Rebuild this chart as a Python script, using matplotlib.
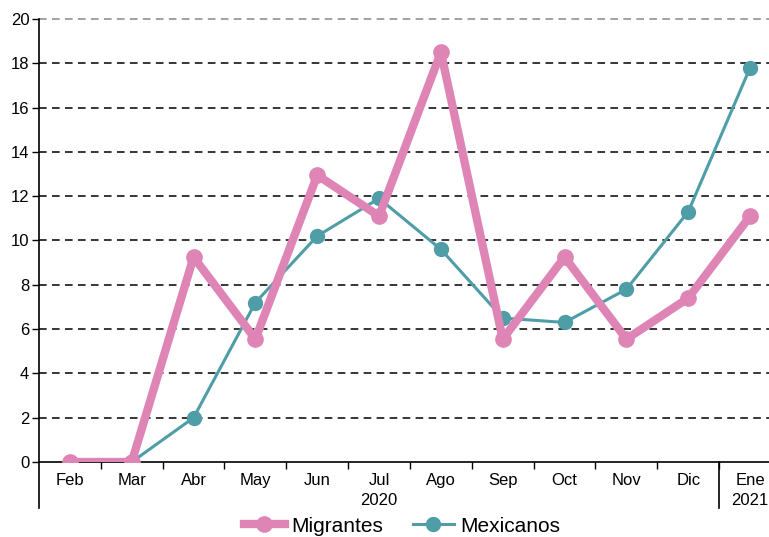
import numpy as np
import matplotlib.pyplot as plt
from matplotlib.lines import Line2D

plt.rcParams['font.family'] = ['Liberation Sans', 'DejaVu Sans']

#months
Meses = ['Feb', 'Mar', 'Abr', 'May', 'Jun', 'Jul', 'Ago', 'Sep', 'Oct', 'Nov', 'Dic', 'Ene']
Anios = {5: '2020', 11: '2021'}

#values
Migrantes = [0, 0, 9.25, 5.55, 12.95, 11.1, 18.5, 5.55, 9.25, 5.55, 7.4, 11.1]
Mexicanos = [0, 0, 2.0, 7.2, 10.2, 11.9, 9.6, 6.5, 6.3, 7.8, 11.3, 17.8]

pink = '#DE85B6'
teal = '#4E9DA7'

fig = plt.figure(figsize=(7.69, 5.37), dpi=100)
W, H = 769, 537
x0, x1 = 39, 781
y0, y1 = 462, 19
ax = fig.add_axes([x0 / W, (H - y0) / H, (x1 - x0) / W, (y0 - y1) / H])

x = np.arange(len(Meses))
ax.plot(x, Mexicanos, c=teal, lw=2.2, marker='o', ms=10, label='Mexicanos', zorder=3)
ax.plot(x, Migrantes, c=pink, lw=6, marker='o', ms=11, label='Migrantes', zorder=4)

ax.set_xlim(-0.5, 11.5)
ax.set_ylim(0, 20)
ax.set_yticks(range(0, 21, 2))
for v in range(2, 21, 2):
    ax.axhline(v, color='#888888' if v == 20 else 'black', lw=1.1, ls=(0, (5, 3.5)), zorder=1, clip_on=False)

ax.set_xticks(x)
ax.set_xticklabels(Meses)
ax.set_xticks(np.arange(0.5, 11, 1), minor=True)
ax.tick_params(axis='x', which='major', length=0, pad=8, labelsize=12)
ax.tick_params(axis='x', which='minor', length=5, width=1, direction='out')
ax.tick_params(axis='y', length=5, width=1, labelsize=12, pad=2)

for s in ['top', 'right']:
    ax.spines[s].set_visible(False)
ax.spines['left'].set_visible(False)
ax.spines['bottom'].set_linewidth(1.2)

ext = -(508 - y0) / (y0 - y1)
ax.add_line(Line2D([0, 0], [ext, 1], transform=ax.transAxes, color='black', lw=1.2, clip_on=False))
sep = (10.5 + 0.5) / 12
ax.add_line(Line2D([sep, sep], [ext, 0], transform=ax.transAxes, color='black', lw=1.2, clip_on=False))

trans = ax.get_xaxis_transform()
for i, yr in Anios.items():
    ax.text(i, -(493 - y0) / (y0 - y1), yr, transform=trans, ha='center', va='top', fontsize=12)

h, l = ax.get_legend_handles_labels()
fig.legend(h[::-1], l[::-1], loc='center', bbox_to_anchor=(402 / W, (H - 526) / H), ncol=2,
           frameon=False, fontsize=15, handlelength=2.0, columnspacing=1.4, handletextpad=0.3)

fig.savefig('out.png', dpi=100)
